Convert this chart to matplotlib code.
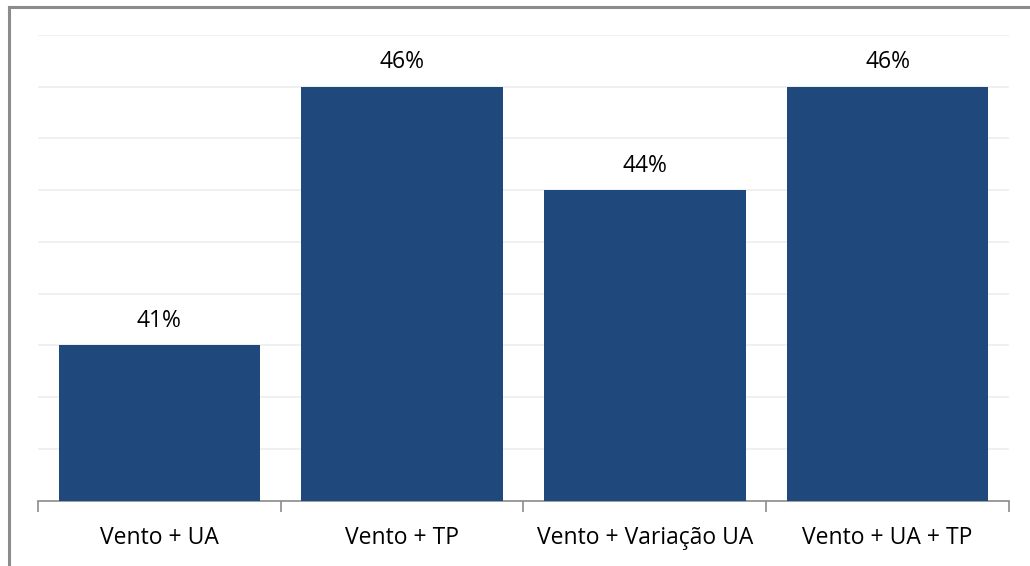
import matplotlib.pyplot as plt
from matplotlib.lines import Line2D
import numpy as np

plt.rcParams['font.family'] = ['Open Sans', 'DejaVu Sans']

categorias = ['Vento + UA', 'Vento + TP', 'Vento + Variação UA', 'Vento + UA + TP']
valores = [41, 46, 44, 46]
rotulos = ['41%', '46%', '44%', '46%']

fig = plt.figure(figsize=(10.3, 5.66), dpi=100)
ax = fig.add_axes([0.0369, 0.1154, 0.9427, 0.8228])

x = np.arange(len(categorias))
ax.bar(x, valores, width=0.83, color='#1f497d', zorder=3)

for xi, v, r in zip(x, valores, rotulos):
    ax.annotate(r, (xi, v), xytext=(0, 9), textcoords='offset points',
                ha='center', va='bottom', fontsize=16.5, color='black')

ax.set_xlim(-0.5, len(categorias) - 0.5)
ax.set_ylim(38, 47)
ax.set_yticks(np.arange(38, 48, 1))
ax.yaxis.grid(True, color='#eeeeee', linewidth=1.2, zorder=0)
ax.tick_params(axis='y', left=False, labelleft=False)

ax.set_xticks(x)
ax.set_xticklabels(categorias, fontsize=16.5)
ax.set_xticks(np.arange(-0.5, len(categorias), 1), minor=True)
ax.tick_params(axis='x', which='major', length=0, pad=18)
ax.tick_params(axis='x', which='minor', length=8, color='#8c8c8c', width=1.2)

for s in ['top', 'right', 'left']:
    ax.spines[s].set_visible(False)
ax.spines['bottom'].set_color('#8c8c8c')
ax.spines['bottom'].set_linewidth(1.2)

# moldura do gráfico (cortada à direita e em baixo)
fig.add_artist(Line2D([8.5 / 1030, 1.0], [1 - 6.5 / 566] * 2, color='#8c8c8c', linewidth=2.2))
fig.add_artist(Line2D([8.5 / 1030] * 2, [0.0, 1 - 6.5 / 566], color='#8c8c8c', linewidth=2.2))

fig.savefig('out.png', dpi=100)
